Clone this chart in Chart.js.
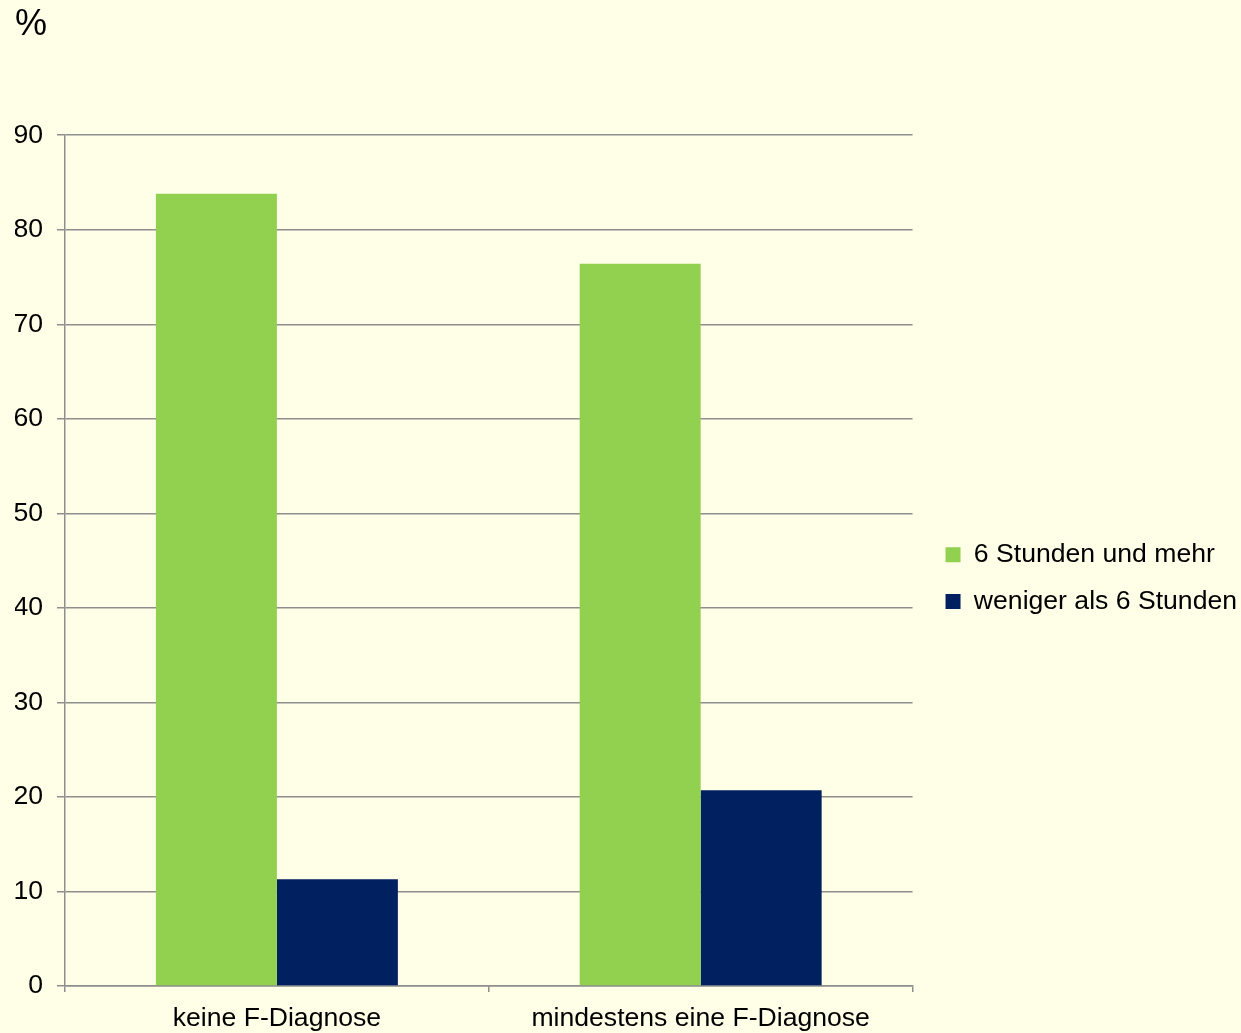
<!DOCTYPE html>
<html>
<head>
<meta charset="utf-8">
<script src="https://cdn.jsdelivr.net/npm/chart.js@4"></script>
<style>
  html, body { margin: 0; padding: 0; background: #FFFFE8; }
  #wrap { width: 1241px; height: 1033px; }
</style>
</head>
<body>
<div id="wrap"><canvas id="sleepChart" width="1241" height="1033"></canvas></div>
<script>
const categories = ['keine F-Diagnose', 'mindestens eine F-Diagnose'];
const seriesNames = ['6 Stunden und mehr', 'weniger als 6 Stunden'];
const sixOrMore = [83.8, 76.4];
const lessThanSix = [11.3, 20.7];
const yTicks = [0, 10, 20, 30, 40, 50, 60, 70, 80, 90];

const FONT = "'Liberation Sans', Arial, sans-serif";
const FONT_SIZE = 26.6;
const gridGray = '#8E8E8E';

const ctx = document.getElementById('sleepChart').getContext('2d');

const sleepChart = new Chart(ctx, {
    type: 'bar',
    data: {
        labels: categories,
        datasets: [
            {
                label: seriesNames[0],
                data: sixOrMore,
                backgroundColor: '#92D050',
                categoryPercentage: 0.571,
                barPercentage: 1.0
            },
            {
                label: seriesNames[1],
                data: lessThanSix,
                backgroundColor: '#002060',
                categoryPercentage: 0.571,
                barPercentage: 1.0
            }
        ]
    },
    options: {
        responsive: false,
        animation: false,
        layout: { padding: { left: 15, right: -6, top: 0, bottom: 0 } },
        plugins: {
            title: {
                display: true,
                text: '%',
                align: 'start',
                color: '#000',
                font: { family: FONT, size: 36, weight: 'normal' },
                padding: { top: 3, bottom: 89 }
            },
            legend: {
                position: 'right',
                fullSize: false,
                align: 'center',
                maxWidth: 400,
                title: {
                    display: true,
                    text: '',
                    font: { size: 10, lineHeight: 1 },
                    padding: { top: 0, bottom: 25 }
                },
                labels: {
                    boxWidth: 15,
                    boxHeight: 15,
                    padding: 20,
                    color: '#000',
                    font: { family: FONT, size: FONT_SIZE }
                }
            },
            tooltip: { enabled: false }
        },
        scales: {
            x: {
                afterFit: (scale) => { scale.height = 47; },
                grid: {
                    drawOnChartArea: false,
                    drawTicks: true,
                    tickLength: 6,
                    color: gridGray,
                    lineWidth: 1.5
                },
                border: { color: gridGray, width: 1.5 },
                ticks: {
                    color: '#000',
                    padding: 11,
                    maxRotation: 0,
                    font: { family: FONT, size: FONT_SIZE }
                }
            },
            y: {
                min: 0,
                max: 90,
                afterBuildTicks: (scale) => {
                    scale.ticks = yTicks.map(v => ({ value: v }));
                },
                afterFit: (scale) => { scale.width = 50; },
                grid: {
                    color: gridGray,
                    lineWidth: 1.5,
                    tickLength: 8
                },
                border: { color: gridGray, width: 1.5 },
                ticks: {
                    color: '#000',
                    padding: 14,
                    font: { family: FONT, size: FONT_SIZE }
                }
            },
            // leere Hilfsachse rechts, schafft Abstand zur Legende
            spacer: {
                position: 'right',
                display: true,
                grid: { display: false },
                border: { display: false },
                ticks: { display: false },
                afterFit: (scale) => { scale.width = 13; }
            }
        }
    }
});
</script>
</body>
</html>
